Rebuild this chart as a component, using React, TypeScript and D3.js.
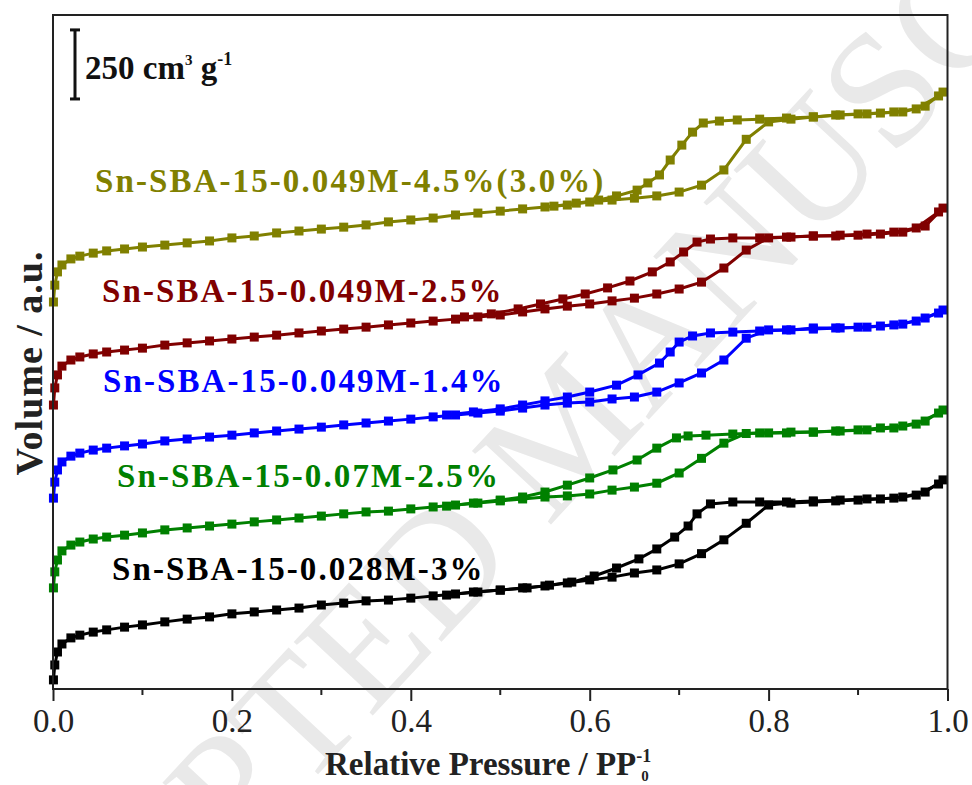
import { useEffect, useRef } from 'react'
import * as d3 from 'd3'

// N2 isotherms of the Sn-SBA-15 samples, stacked with offsets (cm3 g-1).
const xTicks = [0, 0.2, 0.4, 0.6, 0.8, 1.0]
const xMinorTicks = [0.1, 0.3, 0.5, 0.7, 0.9]

// adsorption branch relative pressures (shared by all samples)
const adsP = [
  0.0005, 0.002, 0.005, 0.01, 0.02, 0.03, 0.045, 0.06, 0.08, 0.1,
  0.125, 0.15, 0.175, 0.2, 0.225, 0.25, 0.275, 0.3, 0.325, 0.35,
  0.375, 0.4, 0.425, 0.45, 0.475, 0.5, 0.525, 0.55, 0.575, 0.6,
  0.625, 0.65, 0.675, 0.7, 0.725, 0.75, 0.775, 0.8, 0.825, 0.85,
  0.875, 0.9, 0.925, 0.95, 0.975, 0.995,
]

const blackAds = [
  33, 87, 134, 163, 185, 195, 206, 214, 224, 232,
  243, 253, 261, 272, 279, 286, 293, 304, 311, 319,
  322, 329, 337, 344, 351, 358, 366, 373, 384, 395,
  405, 420, 431, 453, 490, 540, 600, 666, 673, 677,
  681, 684, 688, 695, 713, 757,
]
const greenAds = [
  366, 424, 467, 500, 521, 532, 543, 550, 557, 565,
  576, 583, 590, 597, 605, 612, 619, 626, 634, 641,
  644, 652, 659, 666, 673, 681, 688, 695, 699, 706,
  720, 731, 745, 782, 835, 890, 925, 927, 930, 930,
  934, 938, 945, 952, 970, 1010,
]
const blueAds = [
  691, 749, 793, 822, 843, 854, 865, 872, 880, 887,
  898, 905, 912, 919, 927, 934, 941, 948, 956, 963,
  970, 977, 985, 992, 999, 1006, 1017, 1028, 1035, 1039,
  1050, 1057, 1075, 1108, 1144, 1191, 1270, 1300, 1300, 1307,
  1307, 1310, 1314, 1321, 1343, 1372,
]
const redAds = [
  1028, 1090, 1137, 1169, 1191, 1202, 1213, 1220, 1227, 1234,
  1245, 1253, 1260, 1267, 1274, 1281, 1289, 1296, 1303, 1310,
  1318, 1325, 1332, 1339, 1347, 1354, 1365, 1376, 1386, 1394,
  1405, 1415, 1430, 1448, 1473, 1524, 1589, 1633, 1636, 1640,
  1640, 1643, 1647, 1654, 1676, 1741,
]
const oliveAds = [
  1401, 1462, 1510, 1535, 1557, 1567, 1578, 1586, 1593, 1600,
  1607, 1615, 1622, 1633, 1640, 1651, 1658, 1665, 1672, 1680,
  1691, 1698, 1705, 1716, 1723, 1730, 1738, 1745, 1752, 1763,
  1770, 1777, 1785, 1799, 1824, 1879, 1990, 2053, 2063, 2071,
  2078, 2082, 2085, 2089, 2110, 2161,
]

// desorption branches
const blackDesP = [0.99, 0.965, 0.94, 0.91, 0.88, 0.85, 0.82, 0.79, 0.76, 0.735, 0.72, 0.71, 0.695, 0.675, 0.655, 0.63, 0.605, 0.58, 0.555, 0.53, 0.5, 0.47, 0.44]
const blackDes = [742, 702, 691, 688, 684, 681, 677, 677, 677, 670, 634, 590, 550, 507, 471, 438, 409, 387, 376, 366, 358, 351, 340]
const greenDesP = [0.99, 0.965, 0.94, 0.91, 0.88, 0.85, 0.82, 0.79, 0.76, 0.73, 0.71, 0.697, 0.675, 0.653, 0.626, 0.6, 0.575, 0.55, 0.525, 0.5, 0.47, 0.44]
const greenDes = [999, 959, 945, 938, 934, 930, 927, 927, 923, 919, 916, 909, 872, 829, 793, 764, 738, 713, 695, 684, 673, 662]
const blueDesP = [0.99, 0.965, 0.94, 0.91, 0.88, 0.85, 0.82, 0.79, 0.76, 0.735, 0.715, 0.7, 0.69, 0.678, 0.654, 0.63, 0.6, 0.575, 0.55, 0.525, 0.5, 0.47, 0.44]
const blueDes = [1361, 1332, 1318, 1310, 1307, 1303, 1300, 1296, 1292, 1289, 1278, 1256, 1220, 1180, 1137, 1100, 1075, 1057, 1043, 1028, 1014, 1003, 992]
const redDesP = [0.99, 0.965, 0.94, 0.91, 0.88, 0.85, 0.82, 0.79, 0.76, 0.735, 0.72, 0.705, 0.69, 0.67, 0.645, 0.62, 0.595, 0.57, 0.545, 0.52, 0.49, 0.46]
const redDes = [1727, 1669, 1654, 1647, 1643, 1640, 1636, 1633, 1633, 1629, 1618, 1582, 1546, 1510, 1477, 1452, 1430, 1412, 1394, 1376, 1358, 1347]
const oliveDesP = [0.99, 0.965, 0.94, 0.91, 0.88, 0.85, 0.82, 0.79, 0.765, 0.745, 0.727, 0.715, 0.703, 0.69, 0.678, 0.665, 0.653, 0.63, 0.61, 0.585, 0.56]
const oliveDes = [2147, 2100, 2089, 2082, 2078, 2071, 2067, 2063, 2060, 2056, 2049, 2016, 1969, 1915, 1861, 1832, 1806, 1785, 1770, 1759, 1748]

const samples = [
  { name: 'Sn-SBA-15-0.028M-3%', color: '#000000', ads: blackAds, desP: blackDesP, des: blackDes, lx: 112, ly: 580 },
  { name: 'Sn-SBA-15-0.07M-2.5%', color: '#008000', ads: greenAds, desP: greenDesP, des: greenDes, lx: 117, ly: 487 },
  { name: 'Sn-SBA-15-0.049M-1.4%', color: '#0000ff', ads: blueAds, desP: blueDesP, des: blueDes, lx: 103, ly: 392 },
  { name: 'Sn-SBA-15-0.049M-2.5%', color: '#800000', ads: redAds, desP: redDesP, des: redDes, lx: 102, ly: 302 },
  { name: 'Sn-SBA-15-0.049M-4.5%(3.0%)', color: '#808000', ads: oliveAds, desP: oliveDesP, des: oliveDes, lx: 95, ly: 192 },
]

const serif = '"Liberation Serif", "Times New Roman", serif'

const IsothermChart = () => {
  const ref = useRef<SVGSVGElement>(null)

  useEffect(() => {
    if (!ref.current) return
    const svg = d3.select(ref.current)
    svg.selectAll('*').remove()

    const width = 972
    const height = 785
    const m = { left: 53, right: 24.5, top: 15, bottom: 96 }
    const x = d3.scaleLinear().domain([0, 1]).range([m.left, width - m.right])
    const y = d3.scaleLinear().domain([0, 2440]).range([height - m.bottom, m.top])

    svg.append('rect').attr('width', width).attr('height', height).attr('fill', '#fff')

    // watermark
    svg
      .append('text')
      .attr('transform', 'translate(565,428) rotate(-47)')
      .attr('text-anchor', 'middle')
      .attr('dominant-baseline', 'central')
      .style('font-family', serif)
      .style('font-size', '165px')
      .style('fill', '#e9e9e9')
      .text('ACCEPTED MANUSCRIPT')

    // curves
    const line = d3
      .line<[number, number]>()
      .x((d) => x(d[0]))
      .y((d) => y(d[1]))

    samples.forEach((s) => {
      const ads: [number, number][] = adsP.map((p, i) => [p, s.ads[i]])
      const des: [number, number][] = s.desP.map((p, i) => [p, s.des[i]])
      ;[ads, des].forEach((branch) => {
        svg
          .append('path')
          .datum(branch)
          .attr('d', line)
          .attr('fill', 'none')
          .attr('stroke', s.color)
          .attr('stroke-width', 3)
        svg
          .append('g')
          .selectAll('rect')
          .data(branch)
          .enter()
          .append('rect')
          .attr('x', (d) => x(d[0]) - 4.5)
          .attr('y', (d) => y(d[1]) - 4.5)
          .attr('width', 9)
          .attr('height', 9)
          .attr('fill', s.color)
      })

      svg
        .append('text')
        .attr('x', s.lx)
        .attr('y', s.ly)
        .attr('letter-spacing', 2.1)
        .style('font-family', serif)
        .style('font-size', '33px')
        .style('font-weight', 'bold')
        .style('fill', s.color)
        .text(s.name)
    })

    // frame
    svg
      .append('rect')
      .attr('x', m.left)
      .attr('y', m.top)
      .attr('width', width - m.left - m.right)
      .attr('height', height - m.top - m.bottom)
      .attr('fill', 'none')
      .attr('stroke', '#222')
      .attr('stroke-width', 2)

    // x axis
    const xAxis = svg.append('g').attr('transform', `translate(0,${height - m.bottom})`)
    xAxis
      .call(
        d3
          .axisBottom(x)
          .tickValues(xTicks)
          .tickSize(12)
          .tickPadding(8)
          .tickFormat((d) => d3.format('.1f')(d as number))
      )
      .call((g) => g.select('.domain').remove())
    xAxis.selectAll('line').attr('stroke', '#222').attr('stroke-width', 2)
    xAxis
      .selectAll('text')
      .style('font-family', serif)
      .style('font-size', '33px')
      .style('fill', '#222')
    xAxis
      .append('g')
      .selectAll('line')
      .data(xMinorTicks)
      .enter()
      .append('line')
      .attr('x1', (d) => x(d))
      .attr('x2', (d) => x(d))
      .attr('y1', 0)
      .attr('y2', 6)
      .attr('stroke', '#222')
      .attr('stroke-width', 2)

    // x title
    const xt = svg
      .append('text')
      .attr('x', 325)
      .attr('y', 775)
      .style('font-family', serif)
      .style('font-size', '33px')
      .style('font-weight', 'bold')
      .style('fill', '#222')
    xt.append('tspan').text('Relative Pressure / PP')
    xt.append('tspan').attr('dy', -13).style('font-size', '18px').text('-1')
    xt.append('tspan').attr('dx', -10).attr('dy', 19).style('font-size', '15px').text('0')

    // y title
    svg
      .append('text')
      .attr('transform', 'translate(42,363) rotate(-90)')
      .attr('text-anchor', 'middle')
      .attr('letter-spacing', 1)
      .style('font-family', serif)
      .style('font-size', '38px')
      .style('font-weight', 'bold')
      .style('fill', '#222')
      .text('Volume / a.u.')

    // scale bar: 250 cm3 g-1
    const barX = 75
    const barTop = y(2440 - 54)
    const barBot = y(2440 - 54 - 250)
    svg
      .append('line')
      .attr('x1', barX)
      .attr('x2', barX)
      .attr('y1', barTop)
      .attr('y2', barBot)
      .attr('stroke', '#111')
      .attr('stroke-width', 3)
    ;[barTop, barBot].forEach((yy) => {
      svg
        .append('line')
        .attr('x1', barX - 5)
        .attr('x2', barX + 5)
        .attr('y1', yy)
        .attr('y2', yy)
        .attr('stroke', '#111')
        .attr('stroke-width', 3)
    })
    const st = svg
      .append('text')
      .attr('x', 85)
      .attr('y', 79)
      .style('font-family', serif)
      .style('font-size', '33px')
      .style('font-weight', 'bold')
      .style('fill', '#111')
    st.append('tspan').text('250 cm')
    st.append('tspan').attr('dy', -14).style('font-size', '15px').text('3')
    st.append('tspan').attr('dy', 14).text(' g')
    st.append('tspan').attr('dy', -14).style('font-size', '18px').text('-1')
  }, [])

  return (
    <svg
      ref={ref}
      width={972}
      height={785}
      style={{ position: 'absolute', left: 0, top: 0, display: 'block' }}
    />
  )
}

export default function App() {
  return <IsothermChart />
}
